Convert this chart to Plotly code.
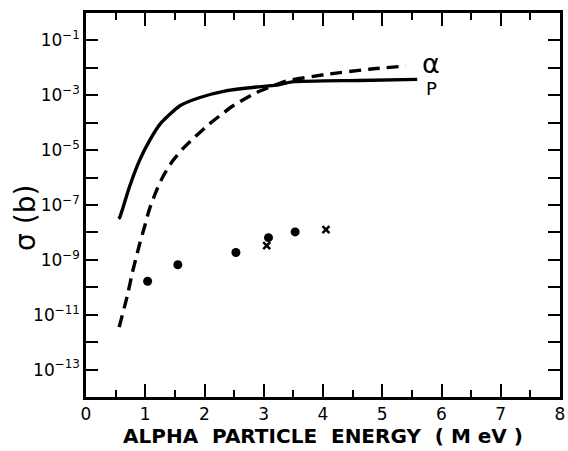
import plotly.graph_objects as go

# Proton (P) curve: energy (MeV), log10 sigma (b)
p_energy = [0.55, 0.57, 0.73, 0.90, 1.07, 1.27, 1.58, 1.91, 2.36, 2.87, 3.21, 3.48, 4.61, 5.59]
p_logsig = [-7.50, -7.45, -6.36, -5.39, -4.66, -4.00, -3.39, -3.09, -2.84, -2.70, -2.63, -2.51, -2.46, -2.42]

# Alpha curve
a_energy = [0.56, 0.705, 0.784, 0.902, 0.987, 1.071, 1.184, 1.295, 1.464, 1.633, 1.80, 2.08, 2.31, 2.47,
            2.87, 3.15, 3.38, 4.05, 4.78, 5.40]
a_logsig = [-11.45, -10.24, -9.45, -8.45, -7.80, -7.15, -6.50, -5.98, -5.39, -4.95, -4.60, -4.05, -3.66, -3.40,
            -2.91, -2.66, -2.48, -2.24, -2.05, -1.93]

# Measured points
dot_energy = [1.04, 1.55, 2.53, 3.08, 3.53]
dot_logsig = [-9.78, -9.18, -8.73, -8.19, -7.98]
cross_energy = [3.05, 4.05]
cross_logsig = [-8.48, -7.90]

x_ticks = [0, 1, 2, 3, 4, 5, 6, 7, 8]
y_exps = [-1, -2, -3, -4, -5, -6, -7, -8, -9, -10, -11, -12, -13]

p10 = lambda v: [10 ** e for e in v]

FONT = "DejaVu Sans, Liberation Sans, sans-serif"

fig = go.Figure()
fig.add_trace(go.Scatter(x=p_energy, y=p10(p_logsig), mode="lines",
                         line=dict(color="black", width=3.4, shape="spline", smoothing=0.6), showlegend=False))
fig.add_trace(go.Scatter(x=a_energy, y=p10(a_logsig), mode="lines",
                         line=dict(color="black", width=3.4, dash="12px,7px", shape="spline", smoothing=0.6),
                         showlegend=False))
fig.add_trace(go.Scatter(x=dot_energy, y=p10(dot_logsig), mode="markers",
                         marker=dict(color="black", size=9, symbol="circle"), showlegend=False))
fig.add_trace(go.Scatter(x=cross_energy, y=p10(cross_logsig), mode="markers",
                         marker=dict(color="black", size=7, symbol="x-thin", line=dict(width=2.5, color="black")),
                         showlegend=False))

ticktext = [("10<sup>\u2212%d</sup>" % (-e)) if e % 2 else "" for e in y_exps]

fig.update_layout(
    width=568, height=451,
    margin=dict(l=86, r=8, t=13, b=54),
    paper_bgcolor="white", plot_bgcolor="white",
    font=dict(family=FONT, color="black", size=16),
    xaxis=dict(range=[0, 8], tickvals=x_ticks, ticks="inside", ticklen=13, tickwidth=2, tickcolor="black",
               showline=True, linewidth=2.5, linecolor="black", mirror="ticks",
               showgrid=False, zeroline=False, automargin=False,
               minor=dict(dtick=0.5, ticks="inside", ticklen=7, tickwidth=2, tickcolor="black", showgrid=False),
               title=dict(text="<b>ALPHA  PARTICLE  ENERGY  ( M eV )</b>", font=dict(size=20), standoff=4),
               tickfont=dict(size=17)),
    yaxis=dict(type="log", range=[-14, 0], tickvals=p10(y_exps), ticktext=ticktext,
               ticks="inside", ticklen=12, tickwidth=2, tickcolor="black",
               showline=True, linewidth=2.5, linecolor="black", mirror="ticks",
               showgrid=False, zeroline=False, automargin=False, tickfont=dict(size=17)),
    annotations=[
        dict(x=-0.129, y=0.466, xref="paper", yref="paper", text="\u03c3 (b)", showarrow=False,
             textangle=-90, font=dict(size=28), xanchor="center", yanchor="middle"),
        dict(x=5.82, y=-1.83, xref="x", yref="y", text="\u03b1", showarrow=False,
             font=dict(size=27), xanchor="center", yanchor="middle"),
        dict(x=5.83, y=-2.76, xref="x", yref="y", text="P", showarrow=False,
             font=dict(size=18), xanchor="center", yanchor="middle"),
    ],
)

fig.write_html("out.html", config={"displayModeBar": False},
               post_script="document.body.style.margin='0';document.body.style.padding='0';")
